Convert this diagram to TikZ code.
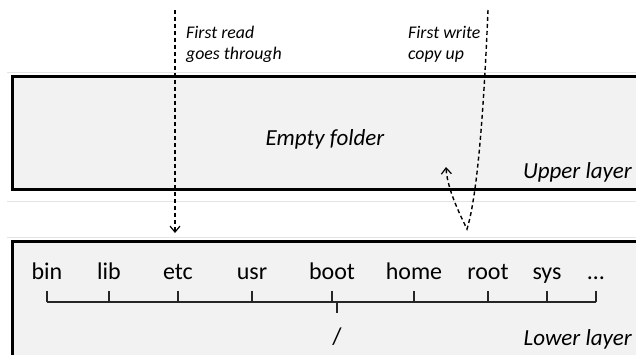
\documentclass[tikz,border=0pt]{standalone}
\usepackage{fontspec}
\setmainfont{Carlito}
\usetikzlibrary{arrows.meta}
\definecolor{boxgray}{HTML}{F2F2F2}
\definecolor{faint}{HTML}{E4E4E4}
\begin{document}
\begin{tikzpicture}[x=1pt,y=-1pt,
  layerbox/.style={draw=black,line width=3pt,fill=boxgray},
  faintline/.style={draw=faint,line width=1pt},
  dashline/.style={line width=1.4pt,dash pattern=on 4pt off 3pt},
  barb/.style={-{Straight Barb[length=6pt,width=10pt,line width=1.2pt]}},
  note/.style={font=\fontsize{17.8}{21}\selectfont\itshape,anchor=base west,inner sep=0pt},
  big/.style={font=\fontsize{23}{27}\selectfont\itshape,inner sep=0pt},
  lbl/.style={font=\fontsize{24}{28}\selectfont,anchor=base,inner sep=0pt},
  treeline/.style={line width=1.2pt,draw=black!85}
]
\useasboundingbox (0,0) rectangle (636,355);
\clip (0,0) rectangle (636,355);
% faint lines
\draw[faintline] (7,73) -- (640,73);
\draw[faintline] (7,202) -- (640,202);
\draw[faintline] (7,237) -- (640,237);
% layers
\draw[layerbox] (12,77) rectangle (660,190);
\draw[layerbox] (12,241) rectangle (660,380);
% upper texts
\node[big,anchor=base] (empty) at (325,146) {Empty folder};
\node[big,anchor=base east] (upper) at (632,179) {Upper layer};
\node[big,anchor=base east] (lower) at (632,345) {Lower layer};
% notes
\node[note] (readA) at (186,39) {First read};
\node[note] (readB) at (186,60) {goes through};
\node[note] (writeA) at (408,39) {First write};
\node[note] (writeB) at (408,60) {copy up};
% lower labels
\node[lbl] (bin) at (47,279) {bin};
\node[lbl] (lib) at (109,279) {lib};
\node[lbl] (etc) at (178,279) {etc};
\node[lbl] (usr) at (252,279) {usr};
\node[lbl] (boot) at (332,279) {boot};
\node[lbl] (home) at (414,279) {home};
\node[lbl] (rootd) at (488,279) {root};
\node[lbl] (sys) at (547,279) {sys};
\node[lbl] (more) at (596,279) {…};
\node[lbl] (slash) at (337,344) {/};
% tree
\foreach \n in {bin,lib,etc,usr,boot,home,rootd,sys,more}
  \draw[treeline] (\n.base) ++(0,12) -- ++(0,11);
\draw[treeline] ([yshift=-23pt]bin.base) -- ([yshift=-23pt]more.base);
\draw[treeline] (slash.base) ++(0,-42) -- ++(0,11);
% read arrow
\coordinate (r0) at (175,10);
\coordinate (r1) at (175,233);
\draw[dashline,barb] (r0) -- (r1);
% write arrow
\coordinate (w0) at (488,10);
\coordinate (wb) at (467,229);
\coordinate (w1) at (446,167);
\draw[dashline,barb] (w0) .. controls (483,130) and (476,200) .. (wb)
  .. controls (455,205) and (447,185) .. (w1);
\end{tikzpicture}
\end{document}
